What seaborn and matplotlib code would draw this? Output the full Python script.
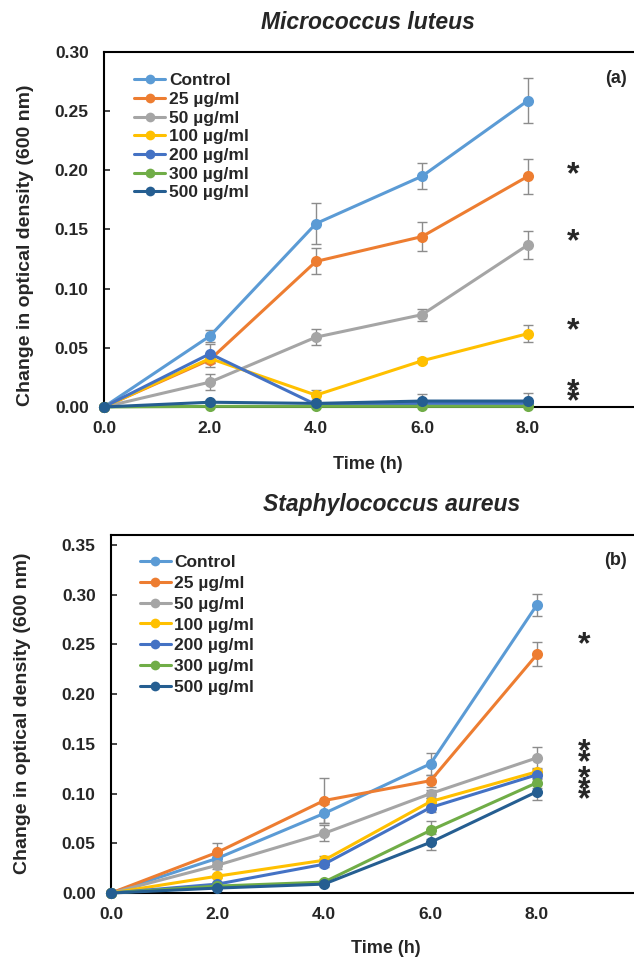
import pandas as pd
import matplotlib
matplotlib.use('Agg')
import matplotlib.pyplot as plt
import seaborn as sns

sns.set_style('white')
plt.rcParams['font.family'] = ['Liberation Sans', 'DejaVu Sans']
plt.rcParams['font.weight'] = 'bold'

# Data
time_h = [0, 2, 4, 6, 8]
groups = ['Control', '25 µg/ml', '50 µg/ml', '100 µg/ml', '200 µg/ml', '300 µg/ml', '500 µg/ml']
colors = ['#5B9BD5', '#ED7D31', '#A5A5A5', '#FFC000', '#4472C4', '#70AD47', '#255E91']

# (a) Micrococcus luteus
ml_control = [0, 0.060, 0.155, 0.195, 0.259]
ml_25 = [0, 0.040, 0.123, 0.144, 0.195]
ml_50 = [0, 0.021, 0.059, 0.078, 0.137]
ml_100 = [0, 0.041, 0.010, 0.039, 0.062]
ml_200 = [0, 0.045, 0.002, 0.003, 0.003]
ml_300 = [0, 0.0005, 0.0005, 0.0005, 0.0005]
ml_500 = [0, 0.004, 0.003, 0.005, 0.005]
ml_err_control = [0, 0.005, 0.017, 0.011, 0.019]
ml_err_25 = [0, 0.006, 0.011, 0.012, 0.015]
ml_err_50 = [0, 0.007, 0.007, 0.005, 0.012]
ml_err_100 = [0, 0.004, 0.004, 0.002, 0.007]
ml_err_200 = [0, 0.008, 0.001, 0.001, 0.001]
ml_err_300 = [0, 0.0005, 0.0005, 0.0005, 0.0005]
ml_err_500 = [0, 0.002, 0.002, 0.006, 0.007]
ml_star_y = [0.196, 0.139, 0.064, 0.0127, 0.004]

# (b) Staphylococcus aureus
sa_control = [0, 0.035, 0.080, 0.130, 0.290]
sa_25 = [0, 0.041, 0.093, 0.113, 0.240]
sa_50 = [0, 0.028, 0.060, 0.100, 0.136]
sa_100 = [0, 0.017, 0.033, 0.092, 0.122]
sa_200 = [0, 0.009, 0.029, 0.086, 0.119]
sa_300 = [0, 0.007, 0.011, 0.063, 0.111]
sa_500 = [0, 0.005, 0.009, 0.051, 0.102]
sa_err_control = [0, 0.004, 0.010, 0.011, 0.011]
sa_err_25 = [0, 0.009, 0.023, 0.006, 0.012]
sa_err_50 = [0, 0.004, 0.008, 0.004, 0.011]
sa_err_100 = [0, 0.002, 0.004, 0.004, 0.004]
sa_err_200 = [0, 0.002, 0.003, 0.004, 0.004]
sa_err_300 = [0, 0.001, 0.002, 0.009, 0.005]
sa_err_500 = [0, 0.001, 0.002, 0.008, 0.008]
sa_star_y = [0.2496, 0.142, 0.131, 0.114, 0.103, 0.093]

ml_vals = [ml_control, ml_25, ml_50, ml_100, ml_200, ml_300, ml_500]
ml_errs = [ml_err_control, ml_err_25, ml_err_50, ml_err_100, ml_err_200, ml_err_300, ml_err_500]
sa_vals = [sa_control, sa_25, sa_50, sa_100, sa_200, sa_300, sa_500]
sa_errs = [sa_err_control, sa_err_25, sa_err_50, sa_err_100, sa_err_200, sa_err_300, sa_err_500]


def to_long(vals, errs):
    rows = []
    for g, v, e in zip(groups, vals, errs):
        for t, y, s in zip(time_h, v, e):
            rows.append({'Time': t, 'OD': y, 'err': s, 'Group': g})
    return pd.DataFrame(rows)


def draw_panel(ax, df, title, title_xy, tag, tag_y, ylim, yticks, xlim,
               star_x, star_y, leg_anchor, leg_space, xlab_xy, ylab_xy):
    palette = dict(zip(groups, colors))
    for g in groups:
        d = df[df['Group'] == g]
        ax.errorbar(d['Time'], d['OD'], yerr=d['err'], fmt='none',
                    ecolor='#8C8C8C', elinewidth=1.0, capsize=3.5, capthick=1.0, zorder=2)
    sns.lineplot(data=df, x='Time', y='OD', hue='Group', hue_order=groups, palette=palette,
                 marker='o', markersize=8, markeredgewidth=0, linewidth=2.2,
                 errorbar=None, ax=ax, zorder=3, clip_on=False)
    ax.set_xlim(*xlim)
    ax.set_ylim(*ylim)
    ax.set_xticks(time_h)
    ax.set_xticklabels([f'{t:.1f}' for t in time_h], fontsize=12.5, fontweight='bold')
    ax.set_yticks(yticks)
    ax.set_yticklabels([f'{y:.2f}' for y in yticks], fontsize=12.5, fontweight='bold')
    ax.tick_params(axis='x', length=0, pad=10)
    ax.tick_params(axis='y', direction='in', length=4, width=1.2, pad=11, left=True)
    for s in ['left', 'bottom', 'top']:
        ax.spines[s].set_color('black')
        ax.spines[s].set_linewidth(1.5)
    ax.spines['right'].set_visible(False)
    ax.set_xlabel('Time (h)', fontsize=13, fontweight='bold')
    ax.xaxis.set_label_coords(*xlab_xy)
    ax.xaxis.label.set_va('center')
    ax.set_ylabel('Change in optical density (600 nm)', fontsize=14, fontweight='bold')
    ax.yaxis.set_label_coords(*ylab_xy)
    ax.yaxis.label.set_va('center')
    ax.text(title_xy[0], title_xy[1], title, transform=ax.transAxes, ha='center', va='center',
            fontsize=16.5, fontweight='bold', style='italic')
    ax.text(0.987, tag_y, tag, transform=ax.transAxes, ha='right', va='center',
            fontsize=13, fontweight='bold')
    for y in star_y:
        ax.text(star_x, y, '*', ha='center', va='center', fontsize=23, fontweight='bold')
    leg = ax.legend(loc='upper left', bbox_to_anchor=leg_anchor, frameon=False,
                    prop={'size': 12.5, 'weight': 'bold'}, handlelength=1.8,
                    handletextpad=0.2, labelspacing=leg_space, borderaxespad=0,
                    borderpad=0)
    for h in leg.get_lines():
        h.set_linewidth(2.2)
        h.set_markersize(7)


fig = plt.figure(figsize=(6.34, 9.58), dpi=100)
ax1 = fig.add_axes([0.164, 0.5752, 0.836, 0.3705])
ax2 = fig.add_axes([0.175, 0.0678, 0.825, 0.3737])

draw_panel(ax1, to_long(ml_vals, ml_errs), 'Micrococcus luteus', (0.498, 1.082), '(a)', 0.925,
           (0, 0.30), [0, 0.05, 0.10, 0.15, 0.20, 0.25, 0.30], (0, 10),
           8.85, ml_star_y, (0.057, 0.940), 0.2, (0.498, -0.161), (-0.148, 0.456))
draw_panel(ax2, to_long(sa_vals, sa_errs), 'Staphylococcus aureus', (0.537, 1.084), '(b)', 0.93,
           (0, 0.36), [0, 0.05, 0.10, 0.15, 0.20, 0.25, 0.30, 0.35], (0, 9.82),
           8.88, sa_star_y, (0.055, 0.945), 0.33, (0.526, -0.154), (-0.170, 0.503))

fig.savefig('out.png', dpi=100)
